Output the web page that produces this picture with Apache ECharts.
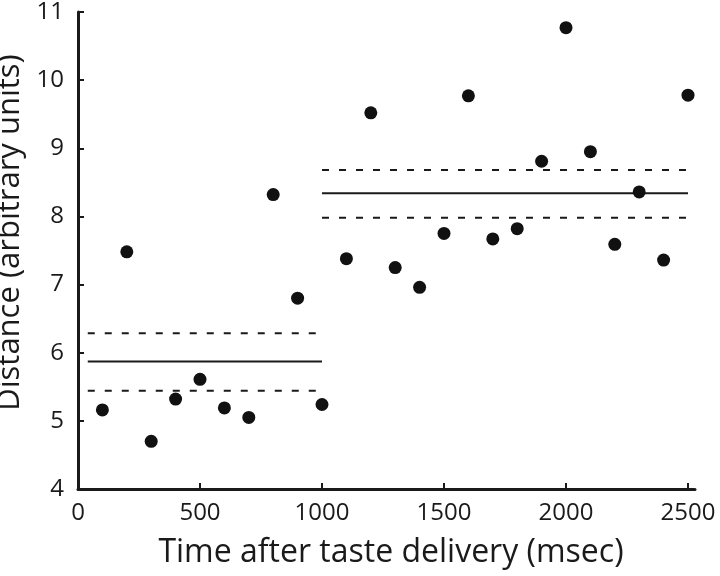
<!DOCTYPE html>
<html>
<head>
<meta charset="utf-8">
<script src="https://cdn.jsdelivr.net/npm/echarts@6/dist/echarts.min.js"></script>
<style>html,body{margin:0;padding:0;background:#fff}#c{width:720px;height:576px}</style>
</head>
<body>
<div id="c"></div>
<script>
const times = [100,200,300,400,500,600,700,800,900,1000,1100,1200,1300,1400,1500,1600,1700,1800,1900,2000,2100,2200,2300,2400,2500];
const distances = [5.16,7.48,4.70,5.32,5.61,5.19,5.05,8.32,6.80,5.24,7.38,9.52,7.25,6.96,7.75,9.77,7.67,7.82,8.81,10.77,8.95,7.59,8.36,7.36,9.78];
const earlyRange = [40, 1000];
const earlyMean = 5.87, earlyUpper = 6.285, earlyLower = 5.44;
const lateRange = [1000, 2500];
const lateMean = 8.34, lateUpper = 8.68, lateLower = 7.98;
const xTicks = [0, 2500, 500];
const yTicks = [4, 11, 1];

const FONT = 'Open Sans';
const INK = '#1a1a1a';
function hline(range, y, dashed) {
  return {
    type: 'line', xAxisIndex: 0, yAxisIndex: 0,
    data: [[range[0], y], [range[1], y]],
    symbol: 'none', silent: true,
    lineStyle: { color: INK, width: 2, type: dashed ? [7, 10] : 'solid' }
  };
}
const chart = echarts.init(document.getElementById('c'));
chart.setOption({
  animation: false,
  grid: [
    { left: 78, right: 32, top: 12, bottom: 87, outerBoundsMode: 'none', containLabel: false },
    { left: 78, right: 25, top: 12, bottom: 87, outerBoundsMode: 'none', containLabel: false }
  ],
  xAxis: [{
    gridIndex: 0, type: 'value', min: xTicks[0], max: xTicks[1], interval: xTicks[2],
    axisLine: { show: false },
    axisTick: { show: true, inside: true, length: 6, lineStyle: { color: INK, width: 2 } },
    splitLine: { show: false },
    axisLabel: { fontFamily: FONT, fontSize: 24, color: INK, margin: 12, formatter: v => String(v) },
    name: 'Time after taste delivery (msec)', nameLocation: 'middle', nameGap: 48,
    nameTextStyle: { fontFamily: FONT, fontSize: 32, color: INK, padding: [0, 0, 0, 16] }
  }, {
    gridIndex: 1, type: 'value', min: 0, max: 1,
    axisLine: { show: true, lineStyle: { color: INK, width: 3 } },
    axisTick: { show: false }, axisLabel: { show: false }, splitLine: { show: false }
  }],
  yAxis: [{
    gridIndex: 0, type: 'value', min: yTicks[0], max: yTicks[1], interval: yTicks[2],
    axisLine: { show: true, lineStyle: { color: INK, width: 3 } },
    axisTick: { show: true, inside: true, length: 6, lineStyle: { color: INK, width: 2 } },
    splitLine: { show: false },
    axisLabel: { fontFamily: FONT, fontSize: 24, color: INK, margin: 14 },
    name: 'Distance (arbitrary units)', nameLocation: 'middle', nameGap: 50,
    nameTextStyle: { fontFamily: FONT, fontSize: 31, color: INK, padding: [0, 0, 0, 36] }
  }, {
    gridIndex: 1, type: 'value', show: false
  }],
  series: [
    {
      type: 'scatter', xAxisIndex: 0, yAxisIndex: 0,
      data: times.map((t, i) => [t, distances[i]]),
      symbol: 'circle', symbolSize: 13,
      itemStyle: { color: '#111', opacity: 1 }, z: 5
    },
    hline(earlyRange, earlyMean, false),
    hline(earlyRange, earlyUpper, true),
    hline(earlyRange, earlyLower, true),
    hline(lateRange, lateMean, false),
    hline(lateRange, lateUpper, true),
    hline(lateRange, lateLower, true)
  ]
});
</script>
</body>
</html>
